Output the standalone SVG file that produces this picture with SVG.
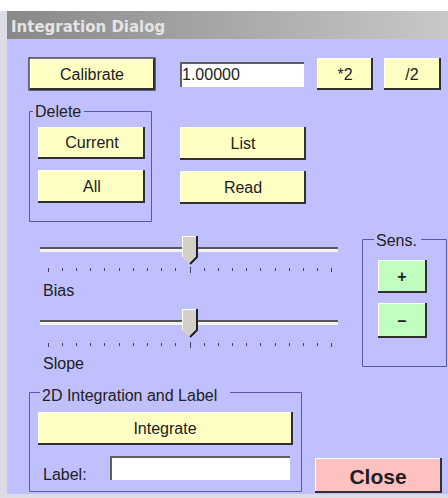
<svg xmlns="http://www.w3.org/2000/svg" width="448" height="498" viewBox="0 0 448 498">
<defs>
<linearGradient id="tg" x1="0" y1="0" x2="1" y2="0">
<stop offset="0" stop-color="#888888"/>
<stop offset="1" stop-color="#c8c8c8"/>
</linearGradient>
<style>
text{font-family:"Liberation Sans",Arial,sans-serif;font-size:16px;fill:#202020}
.c{text-anchor:middle}
.by{fill:#ffffc4}
.bg{fill:#c0ffc0}
.bp{fill:#ffc0c0}
.hl{fill:none;stroke:#ffffff;stroke-width:1}
.sh{fill:none;stroke:#303030;stroke-width:2}
.fr{fill:none;stroke:#5858a8;stroke-width:1}
.fld{fill:#ffffff}
.fsh{fill:none;stroke:#606060;stroke-width:2}
.tk{stroke:#404060;stroke-width:1}
.thumb{fill:#d4d0c8}
</style>
</defs>
<rect x="0" y="0" width="448" height="498" fill="#ffffff"/>
<rect x="0" y="11" width="448" height="487" fill="#dcdce4"/>
<rect x="7" y="39" width="441" height="455" fill="#c0c0ff"/>
<g id="titlebar">
<rect x="7" y="11" width="441" height="28" fill="url(#tg)"/>
<text x="11" y="32" style="font-family:'DejaVu Sans',Verdana,sans-serif;font-weight:bold;font-size:15px;fill:#e4e4e4">Integration Dialog</text>
</g>
<g id="btn-calibrate">
<rect class="by" x="29" y="58" width="126" height="32" stroke="#000" stroke-width="1"/>
<path class="hl" d="M31,88 V60 H153"/>
<path class="sh" d="M30,89 H154 V59"/>
<text class="c" x="92" y="80">Calibrate</text>
</g>
<g id="field-value">
<rect class="fld" x="180" y="62" width="124" height="25"/>
<path class="fsh" d="M181,87 V63 H304"/>
<text x="182" y="80">1.00000</text>
</g>
<g id="btn-times2">
<rect class="by" x="317" y="58" width="56" height="32"/>
<path class="hl" d="M317.5,89 V58.5 H372"/>
<path class="sh" d="M317,89 H372 V58"/>
<text class="c" x="345" y="80">*2</text>
</g>
<g id="btn-div2">
<rect class="by" x="384" y="58" width="57" height="32"/>
<path class="hl" d="M384.5,89 V58.5 H440"/>
<path class="sh" d="M384,89 H440 V58"/>
<text class="c" x="412" y="80">/2</text>
</g>
<g id="group-delete">
<path class="fr" d="M84,111.5 H151.5 V221.5 H29.5 V111.5 H33"/>
<text x="35" y="117">Delete</text>
</g>
<g id="btn-current">
<rect class="by" x="38" y="127" width="107" height="32"/>
<path class="hl" d="M38.5,158 V127.5 H144"/>
<path class="sh" d="M38,158 H144 V127"/>
<text class="c" x="92" y="148">Current</text>
</g>
<g id="btn-all">
<rect class="by" x="38" y="170" width="107" height="33"/>
<path class="hl" d="M38.5,202 V170.5 H144"/>
<path class="sh" d="M38,202 H144 V170"/>
<text class="c" x="92" y="192">All</text>
</g>
<g id="btn-list">
<rect class="by" x="180" y="127" width="126" height="33"/>
<path class="hl" d="M180.5,159 V127.5 H305"/>
<path class="sh" d="M180,159 H305 V127"/>
<text class="c" x="243" y="149">List</text>
</g>
<g id="btn-read">
<rect class="by" x="180" y="171" width="126" height="33"/>
<path class="hl" d="M180.5,203 V171.5 H305"/>
<path class="sh" d="M180,203 H305 V171"/>
<text class="c" x="243" y="193">Read</text>
</g>
<g id="slider-bias">
<rect x="40" y="247" width="298" height="5" fill="#f4f4f4"/>
<rect x="40" y="247" width="298" height="2" fill="#585858"/>
<g class="tk">
<path d="M48.5,268v4M62.5,268v3M76.5,268v3M90.5,268v3M104.5,268v3M119.5,268v3M133.5,268v3M147.5,268v3M161.5,268v3M175.5,268v3M190.5,267v6M204.5,268v3M218.5,268v3M232.5,268v3M246.5,268v3M260.5,268v3M275.5,268v3M289.5,268v3M303.5,268v3M317.5,268v3M331.5,268v4"/>
</g>
<path class="thumb" d="M182,236 H198 V257 L190,265 L182,257 Z"/>
<path d="M182.5,257 V236.5 H197" fill="none" stroke="#ffffff"/>
<path d="M197,236 V257 L190,264" fill="none" stroke="#202020" stroke-width="2"/>
<text x="43" y="296">Bias</text>
</g>
<g id="slider-slope">
<rect x="40" y="320" width="298" height="5" fill="#f4f4f4"/>
<rect x="40" y="320" width="298" height="2" fill="#585858"/>
<g class="tk">
<path d="M48.5,343v4M62.5,343v3M76.5,343v3M90.5,343v3M104.5,343v3M119.5,343v3M133.5,343v3M147.5,343v3M161.5,343v3M175.5,343v3M190.5,342v6M204.5,343v3M218.5,343v3M232.5,343v3M246.5,343v3M260.5,343v3M275.5,343v3M289.5,343v3M303.5,343v3M317.5,343v3M331.5,343v4"/>
</g>
<path class="thumb" d="M182,309 H198 V330 L190,338 L182,330 Z"/>
<path d="M182.5,330 V309.5 H197" fill="none" stroke="#ffffff"/>
<path d="M197,309 V330 L190,337" fill="none" stroke="#202020" stroke-width="2"/>
<text x="43" y="369">Slope</text>
</g>
<g id="group-sens">
<path class="fr" d="M421,239.5 H446.5 V366.5 H362.5 V239.5 H374"/>
<text x="376" y="246">Sens.</text>
</g>
<g id="btn-plus">
<rect class="bg" x="378" y="260" width="49" height="33"/>
<path class="hl" d="M378.5,292 V260.5 H426"/>
<path class="sh" d="M378,292 H426 V260"/>
<text class="c" x="402" y="282" style="font-weight:bold">+</text>
</g>
<g id="btn-minus">
<rect class="bg" x="378" y="303" width="49" height="35"/>
<path class="hl" d="M378.5,337 V303.5 H426"/>
<path class="sh" d="M378,337 H426 V303"/>
<text class="c" x="402" y="326" style="font-weight:bold">–</text>
</g>
<g id="group-2d">
<path class="fr" d="M230,392.5 H301.5 V491.5 H29.5 V392.5 H40"/>
<text x="42" y="401">2D Integration and Label</text>
</g>
<g id="btn-integrate">
<rect class="by" x="38" y="412" width="255" height="33"/>
<path class="hl" d="M38.5,444 V412.5 H292"/>
<path class="sh" d="M38,444 H292 V412"/>
<text class="c" x="165" y="434">Integrate</text>
</g>
<g id="field-label">
<text x="43" y="480">Label:</text>
<rect class="fld" x="110" y="456" width="180" height="24"/>
<path class="fsh" d="M111,480 V457 H290"/>
</g>
<g id="btn-close">
<rect class="bp" x="315" y="458" width="127" height="35"/>
<path class="hl" d="M315.5,492 V458.5 H441"/>
<path class="sh" d="M315,492 H441 V458"/>
<text class="c" x="378" y="484" style="font-weight:bold;font-size:21px">Close</text>
</g>
</svg>
